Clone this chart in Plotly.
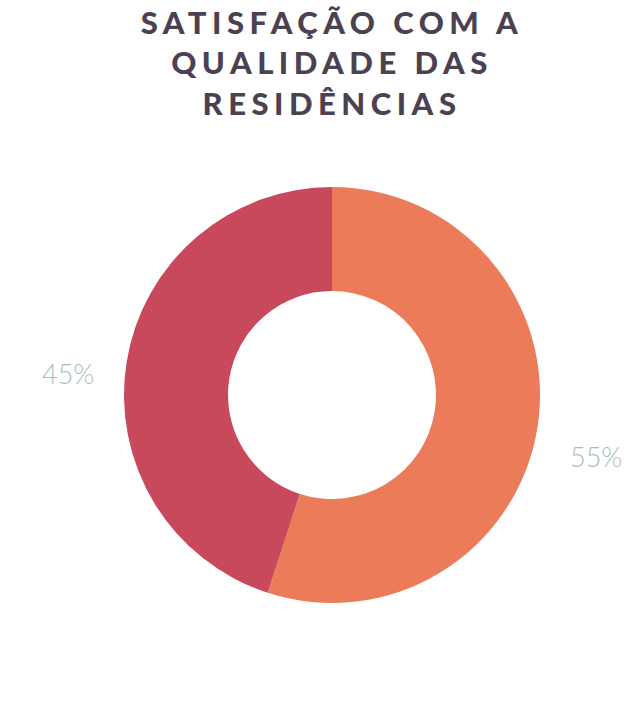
import math
import plotly.graph_objects as go

categorias = ["Satisfeito", "Insatisfeito"]
percentuais = [55, 45]
cores = ["#EC7B59", "#C8485C"]

titulo = "SATISFAÇÃO COM A<br>QUALIDADE DAS<br>RESIDÊNCIAS"

W, H = 634, 722
cx, cy, raio = 332, 395, 208

fig = go.Figure()
fig.add_trace(
    go.Pie(
        labels = categorias,
        values = percentuais,
        hole = 0.5,
        sort = False,
        direction = "clockwise",
        rotation = 0,
        textinfo = "none",
        marker = dict(colors = cores, line = dict(width = 0)),
        domain = dict(
            x = [(cx - raio) / W, (cx + raio) / W],
            y = [(H - cy - raio) / H, (H - cy + raio) / H]
        ),
        showlegend = False,
        hoverinfo = "label+percent"
    )
)

# rótulos de porcentagem fora do anel, no ângulo médio de cada fatia
total = sum(percentuais)
acum = 0
r_rotulo = 267
for v in percentuais:
    meio = (acum + v / 2) / total * 2 * math.pi
    acum += v
    px_ = cx + r_rotulo * math.sin(meio)
    py_ = cy - r_rotulo * math.cos(meio)
    fig.add_annotation(
        x = px_ / W, y = 1 - py_ / H,
        xref = "paper", yref = "paper",
        xanchor = "center", yanchor = "middle",
        text = f"{v}%", showarrow = False,
        yshift = -20,
        font = dict(family = "Lato", size = 27, color = "#A6BFB6", weight = 300)
    )

fig.update_layout(
    width = W, height = H,
    margin = dict(l = 0, r = 0, t = 0, b = 0),
    paper_bgcolor = "white",
    title = dict(
        text = titulo,
        x = cx / W, xanchor = "center",
        y = 1 - 34 / H, yanchor = "middle", yref = "container",
        font = dict(family = "Lato", size = 31, color = "#4B4150", weight = 900)
    )
)

fig.write_html(
    "out.html",
    config = {"displayModeBar": False},
    post_script = (
        "document.body.style.margin='0';"
        "document.querySelectorAll('.gtitle').forEach(function(e){e.style.letterSpacing='5.5px';});"
    )
)
